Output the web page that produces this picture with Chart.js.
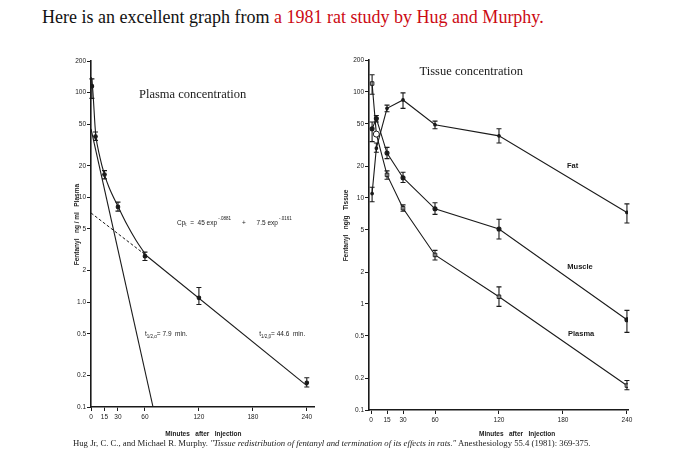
<!DOCTYPE html>
<html>
<head>
<meta charset="utf-8">
<script src="https://cdn.jsdelivr.net/npm/chart.js@4.4.1/dist/chart.umd.min.js"></script>
<style>
  body { margin: 0; background: #fff; width: 690px; height: 469px; overflow: hidden; position: relative; }
  canvas { position: absolute; left: 0; top: 0; }
  #head { position: absolute; left: 42px; top: 7px; font: 18px 'Liberation Serif', serif; color: #111; white-space: nowrap; }
  #head span { color: #cc0a14; }
  #cite { position: absolute; left: 73px; top: 438px; font: 8.7px 'Liberation Serif', serif; color: #222; white-space: nowrap; }
</style>
</head>
<body>
<div id="head">Here is an excellent graph from <span>a 1981 rat study by Hug and Murphy.</span></div>
<canvas id="plasma" width="690" height="469"></canvas>
<canvas id="tissue" width="690" height="469"></canvas>
<div id="cite">Hug Jr, C. C., and Michael R. Murphy. <i>"Tissue redistribution of fentanyl and termination of its effects in rats."</i> Anesthesiology 55.4 (1981): 369-375.</div>
<script>
// sampling times (minutes after injection)
const minutes = [1, 5, 15, 30, 60, 120, 240]

// left panel: plasma data with error bars
const plasmaMean = [115, 38, 16.5, 8.1, 2.75, 1.1, 0.17]
const plasmaLow = [88, 35, 15, 7.4, 2.5, 0.95, 0.155]
const plasmaHigh = [135, 42, 18, 9, 3.0, 1.38, 0.19]

// left panel: fitted curve and its two exponential components
const fitMinutes = [0.5, 2, 5, 10, 15, 20, 30, 40, 50, 60]
const fitValues = [140, 105, 42, 24, 16.5, 12.5, 8.2, 5.5, 3.9, 2.9]
const alphaMinutes = [0, 69]
const alphaValues = [45, 0.1]
const betaDashMinutes = [0, 60]
const betaDashValues = [7.1, 2.85]
const betaMinutes = [60, 240]
const betaValues = [2.85, 0.16]

// right panel: tissue concentrations
const tisPlasma = [120, 40, 16.5, 8, 2.9, 1.17, 0.17]
const tisPlasmaLow = [95, 40, 15, 7.5, 2.6, 0.95, 0.155]
const tisPlasmaHigh = [145, 40, 18, 8.6, 3.2, 1.45, 0.19]
const muscle = [45, 56, 26.5, 15.5, 7.9, 5.1, 0.71]
const muscleLow = [34, 52, 23.5, 14, 7, 4.1, 0.54]
const muscleHigh = [52, 60, 30, 17.5, 9, 6.3, 0.87]
const fat = [11, 29.5, 70, 84, 49, 38.5, 7.3]
const fatLow = [9.2, 27, 65, 70, 45, 33, 5.8]
const fatHigh = [12.6, 33, 75, 98, 53, 45, 8.8]

const xTicks = [0, 15, 30, 60, 120, 180, 240]
const yTicks = [0.1, 0.2, 0.5, 1, 2, 5, 10, 20, 50, 100, 200]
const yLabelsPlasma = ['0.1', '0.2', '0.5', '1.0', '2', '5', '10', '20', '50', '100', '200']
const yLabelsTissue = ['0.1', '0.2', '0.5', '1', '2', '5', '10', '20', '50', '100', '200']

const INK = '#1a1a1a'
const SANS = "'Liberation Sans', sans-serif"
const SERIF = "'Liberation Serif', serif"

function pts(xs, ys) {
  return xs.map((x, i) => ({x: x, y: ys[i]}))
}

// vertical error bars with caps, placed through the y scale
const errorBars = {
  id: 'errorBars',
  afterDatasetsDraw(chart) {
    const ctx = chart.ctx
    const y = chart.scales.y
    chart.data.datasets.forEach((ds, i) => {
      if (!ds.errLow) return
      const meta = chart.getDatasetMeta(i)
      ctx.save()
      ctx.strokeStyle = INK
      ctx.lineWidth = 1.1
      meta.data.forEach((pt, j) => {
        const lo = y.getPixelForValue(ds.errLow[j])
        const hi = y.getPixelForValue(ds.errHigh[j])
        if (Math.abs(lo - hi) < 1) return
        ctx.beginPath()
        ctx.moveTo(pt.x, lo); ctx.lineTo(pt.x, hi)
        ctx.moveTo(pt.x - 2.5, lo); ctx.lineTo(pt.x + 2.5, lo)
        ctx.moveTo(pt.x - 2.5, hi); ctx.lineTo(pt.x + 2.5, hi)
        ctx.stroke()
      })
      ctx.restore()
    })
  }
}

// text notes: each has a data position and a list of parts [text, size, dy]
const notes = {
  id: 'notes',
  afterDraw(chart, args, opts) {
    const ctx = chart.ctx
    const xs = chart.scales.x, ys = chart.scales.y
    const area = chart.chartArea
    ctx.save()
    ctx.fillStyle = INK
    ;(opts.items || []).forEach(n => {
      let px = xs.getPixelForValue(n.x)
      let py = ys.getPixelForValue(n.y)
      ctx.save()
      ctx.translate(px, py)
      ctx.textBaseline = 'middle'
      ctx.textAlign = 'left'
      const fam = n.family || SANS
      const wt = n.weight || 'normal'
      let total = 0
      n.parts.forEach(p => {
        ctx.font = wt + ' ' + p[1] + 'px ' + fam
        total += ctx.measureText(p[0]).width
      })
      let cx = n.align === 'center' ? -total / 2 : 0
      n.parts.forEach(p => {
        ctx.font = wt + ' ' + p[1] + 'px ' + fam
        ctx.fillText(p[0], cx, p[2] || 0)
        cx += ctx.measureText(p[0]).width
      })
      ctx.restore()
    })
    if (opts.xTitle) {
      const t = opts.xTitle
      ctx.font = 'bold 6.5px ' + SANS
      ctx.textAlign = 'center'
      ctx.textBaseline = 'middle'
      ctx.fillText(t.text, xs.getPixelForValue(t.at), area.bottom + t.gap)
    }
    if (opts.yTitle) {
      const t = opts.yTitle
      ctx.save()
      ctx.translate(area.left - t.gap, ys.getPixelForValue(t.at))
      ctx.rotate(-Math.PI / 2)
      ctx.font = 'bold 6.5px ' + SANS
      ctx.textAlign = 'center'
      ctx.textBaseline = 'middle'
      ctx.fillText(t.text, 0, 0)
      ctx.restore()
    }
    ctx.restore()
  }
}

function axes(xMin, xMax, yLabels) {
  const grid = {drawOnChartArea: false, drawTicks: true, tickLength: 4, color: INK, lineWidth: 1}
  const border = {color: INK, width: 1.6}
  const font = {family: SANS, size: 6.5}
  return {
    x: {
      type: 'linear', min: xMin, max: xMax,
      afterBuildTicks: s => { s.ticks = xTicks.map(v => ({value: v})) },
      afterFit: s => { s.height = 20 },
      grid: grid, border: border,
      ticks: {color: INK, font: font, padding: 2, maxRotation: 0, autoSkip: false, callback: v => String(v)}
    },
    y: {
      type: 'logarithmic', min: 0.1, max: 200,
      afterBuildTicks: s => { s.ticks = yTicks.map(v => ({value: v})) },
      afterFit: s => { s.width = 30 },
      grid: grid, border: border,
      ticks: {color: INK, font: font, padding: 1, autoSkip: false, callback: (v, i) => yLabels[i]}
    }
  }
}

const line = {borderColor: INK, borderWidth: 1.1, backgroundColor: INK, tension: 0, pointRadius: 0}

new Chart(document.getElementById('plasma'), {
  type: 'line',
  data: {
    datasets: [
      Object.assign({}, line, {data: pts(fitMinutes, fitValues), cubicInterpolationMode: 'monotone'}),
      Object.assign({}, line, {data: pts(alphaMinutes, alphaValues)}),
      Object.assign({}, line, {data: pts(betaDashMinutes, betaDashValues), borderDash: [3, 2], borderWidth: 1}),
      Object.assign({}, line, {data: pts(betaMinutes, betaValues)}),
      Object.assign({}, line, {data: pts(minutes, plasmaMean), showLine: false, pointRadius: 1.8,
        errLow: plasmaLow, errHigh: plasmaHigh})
    ]
  },
  options: {
    responsive: false, animation: false,
    layout: {padding: {left: 61, right: 376, top: 61, bottom: 42}},
    scales: axes(0, 248, yLabelsPlasma),
    plugins: {
      legend: {display: false}, tooltip: {enabled: false},
      notes: {
        items: [
          {x: 113, y: 96, align: 'center', family: SERIF, parts: [['Plasma concentration', 12.5]]},
          {x: 95.6, y: 5.7, parts: [['Cp', 6.5], ['t', 4.5, 2], ['  =  45 exp', 6.5], [' -.0881', 4.5, -4],
            ['      +      7.5 exp', 6.5], [' -.0161', 4.5, -4]]},
          {x: 60, y: 0.49, parts: [['t', 6.5], ['1/2,\u03b1', 4.5, 2], ['= 7.9  min.', 6.5]]},
          {x: 187, y: 0.49, parts: [['t', 6.5], ['1/2,\u03b2', 4.5, 2], ['= 44.6  min.', 6.5]]}
        ],
        xTitle: {text: 'Minutes   after   Injection', at: 125, gap: 27},
        yTitle: {text: 'Fentanyl   ng / ml   Plasma', at: 5.5, gap: 14}
      }
    }
  },
  plugins: [errorBars, notes]
})

new Chart(document.getElementById('tissue'), {
  type: 'line',
  data: {
    datasets: [
      Object.assign({}, line, {data: pts(minutes, fat), pointRadius: 1.3, errLow: fatLow, errHigh: fatHigh}),
      Object.assign({}, line, {data: pts(minutes, muscle), pointRadius: 2, errLow: muscleLow, errHigh: muscleHigh}),
      Object.assign({}, line, {data: pts(minutes, tisPlasma), pointRadius: [2.5, 3, 2.5, 2.5, 2.5, 2.5, 2.5],
        pointStyle: ['rect', 'circle', 'rect', 'rect', 'rect', 'rect', 'rect'],
        pointBackgroundColor: '#fff', pointBorderColor: INK, pointBorderWidth: 1,
        errLow: tisPlasmaLow, errHigh: tisPlasmaHigh})
    ]
  },
  options: {
    responsive: false, animation: false,
    layout: {padding: {left: 339, right: 62, top: 60, bottom: 39}},
    scales: axes(-1.9, 241, yLabelsTissue),
    plugins: {
      legend: {display: false}, tooltip: {enabled: false},
      notes: {
        items: [
          {x: 94, y: 155, align: 'center', family: SERIF, parts: [['Tissue concentration', 12.5]]},
          {x: 189, y: 20, align: 'center', weight: 'bold', parts: [['Fat', 7.5]]},
          {x: 196, y: 2.23, align: 'center', weight: 'bold', parts: [['Muscle', 7.5]]},
          {x: 197, y: 0.52, align: 'center', weight: 'bold', parts: [['Plasma', 7.5]]}
        ],
        xTitle: {text: 'Minutes   after   Injection', at: 137, gap: 24},
        yTitle: {text: 'Fentanyl   ng/g   Tissue', at: 5.5, gap: 23}
      }
    }
  },
  plugins: [errorBars, notes]
})
</script>
</body>
</html>
